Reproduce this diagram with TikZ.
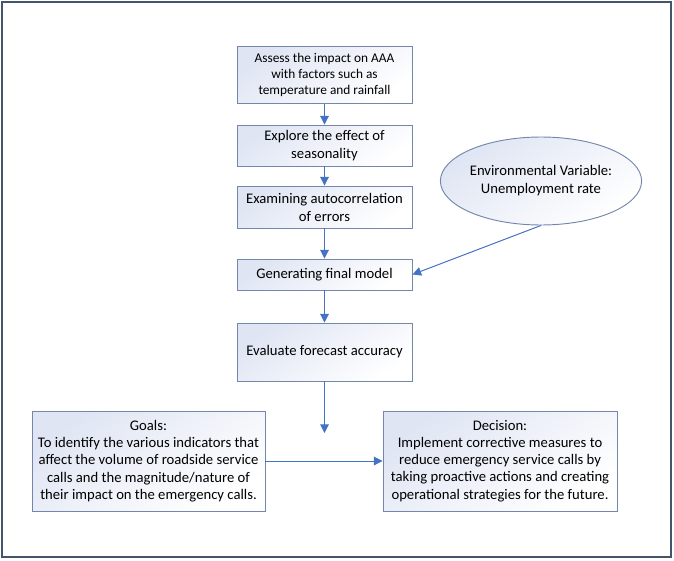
\documentclass[tikz,border=0pt]{standalone}
\usepackage{fontspec}
\setmainfont{Carlito}
\usetikzlibrary{arrows.meta,shapes.geometric}
\definecolor{framec}{HTML}{44546A}
\definecolor{boxline}{HTML}{7486AB}
\definecolor{arrowc}{HTML}{4472C4}
\definecolor{boxtop}{HTML}{DFE5F3}
\begin{document}
\begin{tikzpicture}[x=0.75pt,y=-0.75pt,
  stepbox/.style={draw=boxline, line width=0.7pt, top color=boxtop, bottom color=white, shading angle=35,
    rectangle, align=center, inner sep=0pt, text=black, font=\fontsize{11}{13.5}\selectfont},
  envnode/.style={draw=boxline, line width=0.7pt, top color=boxtop, bottom color=white, shading angle=35,
    ellipse, align=center, inner sep=0pt, font=\fontsize{11}{13.5}\selectfont},
  arr/.style={draw=arrowc, line width=0.75pt, -{Triangle[width=6.5pt,length=6.5pt]}},
  ]
\useasboundingbox (0,0) rectangle (674,560);
\draw[framec, line width=0.8pt] (2,2) rectangle (671,557);
\node[stepbox, minimum width=175*0.75pt, minimum height=57*0.75pt, font=\fontsize{10}{12}\selectfont] (b1) at (324.5,75)
  {Assess the impact on AAA\\with factors such as\\temperature and rainfall};
\node[stepbox, minimum width=175*0.75pt, minimum height=41*0.75pt] (b2) at (324.5,145.5)
  {Explore the effect of\\seasonality};
\node[stepbox, minimum width=175*0.75pt, minimum height=42*0.75pt] (b3) at (324.5,207)
  {Examining autocorrelation\\of errors};
\node[stepbox, minimum width=175*0.75pt, minimum height=31*0.75pt] (b4) at (324.5,274.5)
  {Generating final model};
\node[stepbox, minimum width=175*0.75pt, minimum height=58*0.75pt] (b5) at (324.5,352)
  {Evaluate forecast accuracy};
\node[envnode, minimum width=176*0.75pt, minimum height=88*0.75pt] (env) at (541,181)
  {Environmental Variable:\\Unemployment rate};
\node[stepbox, minimum width=233*0.75pt, minimum height=100*0.75pt, font=\fontsize{11}{12.9}\selectfont] (goals) at (148.5,461)
  {Goals:\\To identify the various indicators that\\affect the volume of roadside service\\calls and the magnitude/nature of\\their impact on the emergency calls.};
\node[stepbox, minimum width=234*0.75pt, minimum height=100*0.75pt, font=\fontsize{11}{12.9}\selectfont] (dec) at (500,461)
  {Decision:\\Implement corrective measures to\\reduce emergency service calls by\\taking proactive actions and creating\\operational strategies for the future.};
\coordinate (e5) at (324.5,433);
\draw[arr] (b1) -- (b2);
\draw[arr] (b2) -- (b3);
\draw[arr] (b3) -- (b4);
\draw[arr] (b4) -- (b5);
\draw[arr] (b5) -- (e5);
\draw[arr] (env.south) -- (b4.east);
\draw[arr] (goals) -- (dec);
\end{tikzpicture}
\end{document}
